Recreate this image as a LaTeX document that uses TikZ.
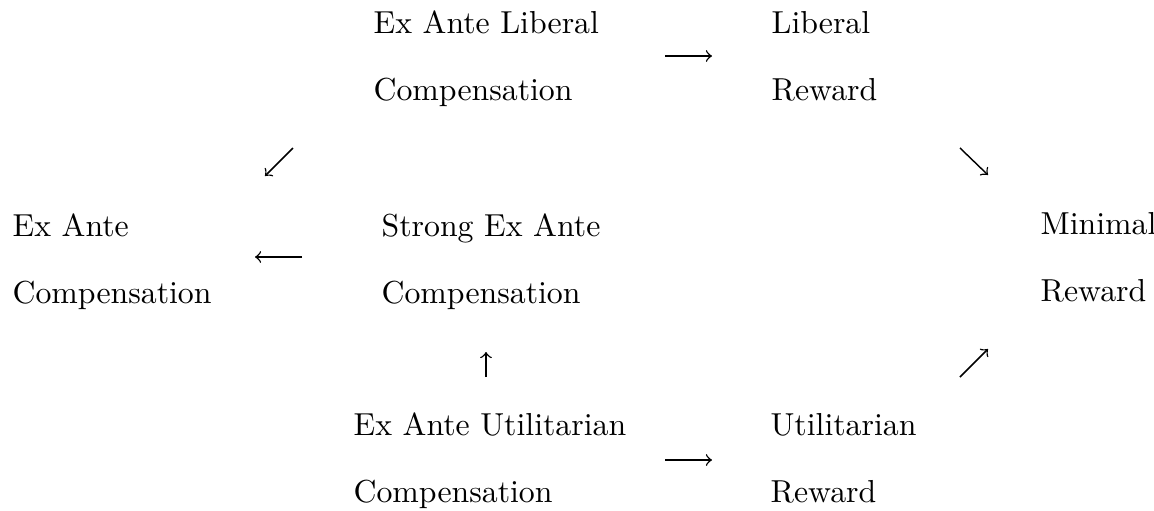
\documentclass[tikz,border=0pt]{standalone}
\begin{document}
\begin{tikzpicture}[x=0.3145pt,y=-0.3145pt,
  lbl/.style={anchor=base west, inner sep=0pt, align=left, font=\fontsize{10}{20.9}\selectfont},
  arr/.style={->, line width=0.45pt}]
\useasboundingbox (0,0) rectangle (1154,511);
\node[lbl] (elc) at (373,100) {Ex Ante Liberal\\Compensation};
\node[lbl] (lr) at (771,100) {Liberal\\Reward};
\node[lbl] (eac) at (12,303) {Ex Ante\\Compensation};
\node[lbl] (seac) at (381,303) {Strong Ex Ante\\Compensation};
\node[lbl] (mr) at (1040,301) {Minimal\\Reward};
\node[lbl] (euc) at (353,502) {Ex Ante Utilitarian\\Compensation};
\node[lbl] (ur) at (770,502) {Utilitarian\\Reward};
\coordinate (a1s) at (665,56);  \coordinate (a1e) at (712,56);
\coordinate (a2s) at (293,148); \coordinate (a2e) at (265,176);
\coordinate (a3s) at (960,148); \coordinate (a3e) at (988,175);
\coordinate (a4s) at (302,257); \coordinate (a4e) at (255,257);
\coordinate (a5s) at (486,377); \coordinate (a5e) at (486,352);
\coordinate (a6s) at (960,377); \coordinate (a6e) at (988,349);
\coordinate (a7s) at (665,460); \coordinate (a7e) at (712,460);
\draw[arr] (a1s) -- (a1e);
\draw[arr] (a2s) -- (a2e);
\draw[arr] (a3s) -- (a3e);
\draw[arr] (a4s) -- (a4e);
\draw[arr] (a5s) -- (a5e);
\draw[arr] (a6s) -- (a6e);
\draw[arr] (a7s) -- (a7e);
\end{tikzpicture}
\end{document}
